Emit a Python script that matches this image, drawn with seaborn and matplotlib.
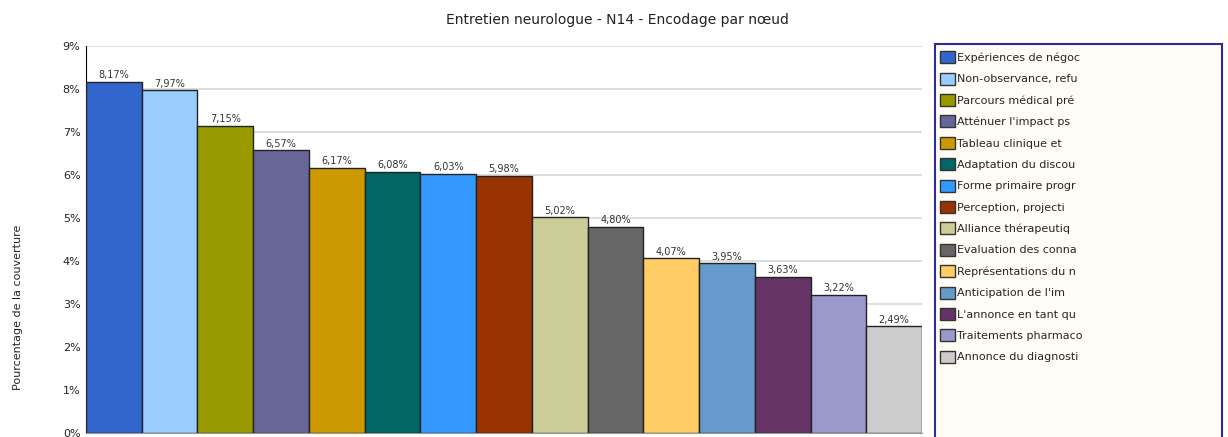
import matplotlib
matplotlib.use("Agg")
from matplotlib import pyplot as plt
from matplotlib.patches import Rectangle, Patch
import pandas as pd
import seaborn as sns

# Données du graphique
noeuds = [
    "Expériences de négoc", "Non-observance, refu", "Parcours médical pré",
    "Atténuer l'impact ps", "Tableau clinique et", "Adaptation du discou",
    "Forme primaire progr", "Perception, projecti", "Alliance thérapeutiq",
    "Evaluation des conna", "Représentations du n", "Anticipation de l'im",
    "L'annonce en tant qu", "Traitements pharmaco", "Annonce du diagnosti",
]
couverture = [8.17, 7.97, 7.15, 6.57, 6.17, 6.08, 6.03, 5.98, 5.02, 4.80,
              4.07, 3.95, 3.63, 3.22, 2.49]
couleurs = [
    "#3366CC", "#99CCFF", "#999900", "#666699", "#CC9900", "#006666",
    "#3399FF", "#993300", "#CCCC99", "#666666", "#FFCC66", "#6699CC",
    "#663366", "#9999CC", "#CCCCCC",
]
graduations = list(range(0, 10))

df = pd.DataFrame({"noeud": noeuds, "couverture": couverture})

sns.set_style("white")
plt.rcParams["font.family"] = ["DejaVu Sans"]

fig = plt.figure(figsize=(12.28, 4.37), dpi=100)
ax = fig.add_axes([0.0700, 0.0092, 0.6808, 0.8856])

sns.barplot(data=df, x="noeud", y="couverture", hue="noeud", palette=couleurs,
            saturation=1, width=1.0, edgecolor="#222222", linewidth=1.0,
            legend=False, ax=ax, zorder=3)

ax.set_xlim(-0.5, len(noeuds) - 0.5)
ax.set_ylim(0, 9)
ax.set_yticks(graduations)
ax.set_yticklabels([f"{g}%" for g in graduations], fontsize=8, color="#222222")
ax.set_xticks([])
ax.set_xlabel("")
ax.set_ylabel("Pourcentage de la couverture", fontsize=8, color="#222222")
ax.yaxis.set_label_coords(-0.075, 0.326)
ax.tick_params(axis="y", length=0, pad=4)
ax.grid(axis="y", color="#D8D8D8", linewidth=1.2, zorder=0)

for side in ["top", "right"]:
    ax.spines[side].set_visible(False)
ax.spines["left"].set_color("#000000")
ax.spines["bottom"].set_color("#999999")

for cont in ax.containers:
    labels = [f"{v:.2f}%".replace(".", ",") for v in cont.datavalues]
    ax.bar_label(cont, labels=labels, fontsize=7, color="#333333", padding=1)

fig.text(0.503, 1 - 20 / 437, "Entretien neurologue - N14 - Encodage par nœud",
         ha="center", va="center", fontsize=10, color="#222222")

# Cadre de la légende
fig.patches.append(Rectangle((935 / 1228, -0.05), 287 / 1228, 1 - 44 / 437 + 0.05,
                             transform=fig.transFigure, facecolor="#FFFCF5",
                             edgecolor="#2B2B9E", linewidth=1.5, zorder=0))

poignees = [Patch(facecolor=c, edgecolor="#333333", linewidth=1.0) for c in couleurs]
leg = fig.legend(poignees, noeuds, loc="upper left",
                 bbox_to_anchor=(938 / 1228, 1 - 49 / 437), frameon=False,
                 fontsize=8, handlelength=1.3, handleheight=1.3,
                 handletextpad=0.2, labelspacing=0.835, borderaxespad=0,
                 borderpad=0.2)

fig.savefig("out.png", dpi=100, facecolor="white")
